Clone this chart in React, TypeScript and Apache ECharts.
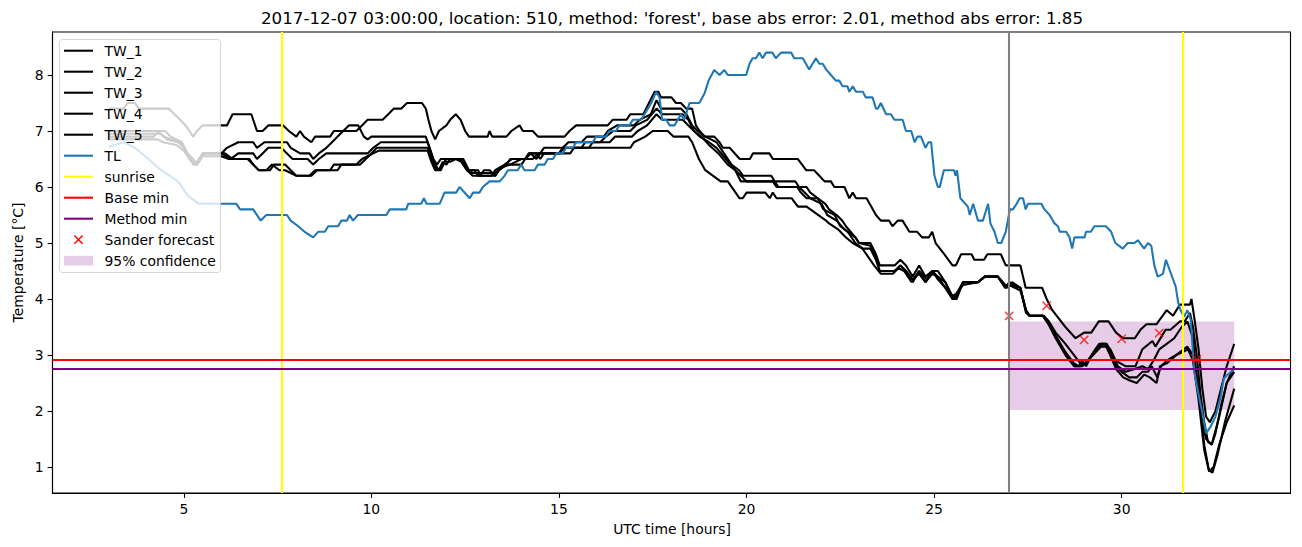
import React, { useEffect, useRef } from "react";
import * as echarts from "echarts";

const TITLE =
  "2017-12-07 03:00:00, location: 510, method: 'forest', base abs error: 2.01, method abs error: 1.85";
const X_LABEL = "UTC time [hours]";
const Y_LABEL = "Temperature [°C]";
const X_TICKS = [5, 10, 15, 20, 25, 30];
const Y_TICKS = [1, 2, 3, 4, 5, 6, 7, 8];

const TW_1: number[][] = [
  [3.0,7.4],[3.4,7.4],[3.5,7.5],[3.7,7.5],[3.8,7.4],[4.6,7.4],[4.75,7.3],[4.9,7.2],[5.05,7.1],[5.15,7.0],[5.25,6.9],[5.35,7.0],[5.5,7.1],[6.15,7.1],[6.3,7.3],[6.8,7.3],[6.95,7.0],[7.1,7.0],[7.25,7.1],[7.65,7.1],[7.8,7.0],[8.0,6.9],[8.1,7.0],[8.2,6.9],[8.4,6.8],[8.5,6.9],[8.9,6.9],[9.0,7.0],[9.6,7.0],[9.75,7.1],[9.9,7.2],[10.3,7.2],[10.45,7.3],[10.6,7.4],[10.8,7.4],[10.95,7.5],[11.35,7.5],[11.45,7.4],[11.52,7.2],[11.6,7.0],[11.7,6.85],[11.8,7.0],[12.0,7.1],[12.1,7.2],[12.25,7.3],[12.38,7.2],[12.5,7.0],[12.6,6.9],[13.1,6.9],[13.15,7.0],[13.22,6.9],[13.6,6.9],[13.73,7.0],[13.95,7.1],[14.04,7.0],[14.3,7.0],[14.44,6.9],[15.15,6.9],[15.28,7.0],[15.46,7.1],[16.3,7.1],[16.43,7.2],[16.8,7.2],[16.9,7.3],[17.25,7.3],[17.4,7.5],[17.55,7.7],[17.65,7.7],[17.72,7.6],[18.0,7.6],[18.12,7.5],[18.25,7.5],[18.39,7.4],[18.55,7.4],[18.65,7.1],[18.75,7.0],[18.88,6.9],[19.14,6.9],[19.28,6.8],[19.37,6.7],[19.55,6.7],[19.82,6.5],[20.09,6.5],[20.17,6.6],[20.61,6.6],[20.7,6.5],[21.37,6.5],[21.59,6.3],[21.8,6.3],[21.94,6.2],[22.08,6.1],[22.25,6.1],[22.34,6.0],[22.61,6.0],[22.74,5.8],[22.83,5.9],[22.92,5.8],[23.2,5.8],[23.45,5.5],[23.58,5.4],[23.8,5.4],[23.89,5.3],[24.03,5.4],[24.16,5.4],[24.34,5.2],[24.55,5.2],[24.68,5.1],[24.86,5.1],[24.95,5.2],[25.04,5.0],[25.27,4.8],[25.49,4.6],[25.58,4.6],[25.72,4.8],[26.0,4.8],[26.07,4.7],[26.33,4.7],[26.42,4.8],[26.78,4.8],[26.91,4.6],[27.3,4.6],[27.44,4.2],[27.88,4.2],[28.0,4.0],[28.15,3.8],[28.5,3.5],[28.77,3.3],[29.0,3.4],[29.19,3.4],[29.39,3.6],[29.65,3.6],[29.85,3.4],[30.04,3.3],[30.35,3.3],[30.5,3.45],[30.66,3.55],[30.93,3.55],[31.2,3.8],[31.37,3.7],[31.55,3.9],[31.82,3.9],[31.86,4.0],[31.95,3.6],[32.05,3.1],[32.15,2.4],[32.25,1.9],[32.35,1.8],[32.5,2.0],[32.65,2.4],[32.8,2.8],[32.9,3.0],[33.0,3.2]
];

const TW_2: number[][] = [
  [3.0,7.0],[4.3,7.0],[4.45,6.9],[4.9,6.8],[5.1,6.6],[5.25,6.5],[5.35,6.4],[5.45,6.5],[5.55,6.6],[6.0,6.6],[6.15,6.7],[6.45,6.8],[6.85,6.8],[6.95,6.7],[7.15,6.8],[7.75,6.8],[7.85,6.7],[8.1,6.6],[8.35,6.6],[8.45,6.5],[8.6,6.6],[8.8,6.7],[8.95,6.8],[9.1,6.9],[9.25,7.0],[9.4,7.1],[9.65,7.1],[9.8,6.9],[9.9,6.85],[10.0,6.9],[11.45,6.9],[11.55,6.7],[11.65,6.5],[11.75,6.4],[11.85,6.5],[12.45,6.5],[12.6,6.3],[12.75,6.3],[12.85,6.2],[13.2,6.2],[13.3,6.3],[13.55,6.4],[13.75,6.5],[14.1,6.5],[14.2,6.6],[14.5,6.6],[14.6,6.7],[15.1,6.7],[15.25,6.8],[15.6,6.8],[15.75,6.9],[16.2,6.9],[16.3,7.0],[16.55,7.1],[17.0,7.1],[17.15,7.2],[17.45,7.3],[17.6,7.55],[17.72,7.4],[18.25,7.4],[18.4,7.3],[18.55,7.1],[18.7,7.0],[18.9,6.9],[19.05,6.85],[19.2,6.8],[19.4,6.6],[19.6,6.4],[19.8,6.3],[19.91,6.2],[20.66,6.2],[20.75,6.1],[21.3,6.1],[21.4,6.0],[21.6,6.0],[21.7,5.9],[21.9,5.8],[22.1,5.7],[22.2,5.6],[22.4,5.5],[22.55,5.4],[22.65,5.3],[22.9,5.1],[23.0,5.0],[23.3,5.0],[23.45,4.8],[23.55,4.6],[23.95,4.6],[24.1,4.7],[24.25,4.6],[24.43,4.4],[24.6,4.6],[24.77,4.4],[24.95,4.5],[25.1,4.5],[25.3,4.3],[25.49,4.0],[25.6,4.1],[25.77,4.3],[26.17,4.3],[26.35,4.4],[26.7,4.4],[26.95,4.2],[27.08,4.3],[27.3,4.2],[27.44,3.8],[27.53,3.7],[27.93,3.7],[28.06,3.6],[28.24,3.4],[28.5,3.2],[28.73,3.0],[28.9,2.85],[29.04,2.85],[29.2,3.0],[29.35,3.15],[29.57,3.2],[29.7,3.1],[29.84,2.9],[30.1,2.8],[30.37,2.8],[30.55,3.1],[30.82,3.25],[30.9,3.15],[31.17,3.45],[31.3,3.45],[31.55,3.6],[31.68,3.6],[31.82,3.75],[31.9,3.5],[32.0,3.0],[32.1,2.3],[32.2,1.8],[32.3,1.45],[32.4,1.4],[32.5,1.6],[32.65,2.1],[32.8,2.5],[33.0,2.8]
];

const TW_3: number[][] = [
  [3.0,6.95],[4.4,6.95],[4.55,6.85],[4.85,6.8],[5.0,6.7],[5.15,6.5],[5.3,6.4],[5.4,6.5],[5.5,6.6],[6.0,6.6],[6.25,6.5],[6.45,6.6],[6.85,6.6],[6.95,6.5],[7.1,6.6],[7.25,6.7],[7.6,6.7],[7.75,6.6],[7.9,6.5],[8.3,6.5],[8.45,6.4],[8.6,6.5],[8.8,6.6],[9.9,6.6],[10.05,6.7],[10.25,6.8],[11.5,6.8],[11.6,6.6],[11.7,6.4],[11.8,6.3],[11.9,6.45],[12.0,6.4],[12.1,6.5],[12.4,6.5],[12.55,6.3],[12.85,6.3],[12.9,6.2],[13.3,6.2],[13.4,6.3],[13.6,6.4],[14.0,6.4],[14.1,6.5],[14.25,6.6],[14.4,6.5],[14.5,6.6],[15.0,6.6],[15.15,6.7],[15.6,6.7],[15.7,6.8],[16.1,6.8],[16.25,6.9],[16.45,7.0],[16.9,7.0],[17.05,7.1],[17.35,7.2],[17.6,7.4],[17.75,7.3],[18.3,7.3],[18.45,7.2],[18.6,7.0],[18.75,6.9],[19.0,6.8],[19.2,6.7],[19.45,6.5],[19.7,6.3],[19.85,6.1],[20.7,6.1],[20.8,6.0],[21.35,6.0],[21.45,5.9],[21.6,5.8],[21.9,5.8],[22.05,5.6],[22.35,5.5],[22.5,5.3],[22.7,5.2],[22.9,5.0],[23.1,4.9],[23.3,4.9],[23.45,4.7],[23.55,4.5],[23.95,4.5],[24.1,4.6],[24.25,4.5],[24.43,4.3],[24.6,4.5],[24.77,4.3],[24.95,4.45],[25.1,4.4],[25.3,4.2],[25.49,4.0],[25.6,4.05],[25.77,4.3],[26.17,4.3],[26.35,4.4],[26.7,4.4],[26.9,4.2],[27.0,4.3],[27.3,4.2],[27.45,3.8],[27.55,3.7],[27.9,3.7],[28.05,3.55],[28.24,3.35],[28.5,3.05],[28.73,2.85],[28.85,2.8],[28.95,2.9],[29.05,2.8],[29.2,3.0],[29.4,3.2],[29.55,3.2],[29.7,3.0],[29.85,2.8],[30.0,2.7],[30.2,2.6],[30.4,2.6],[30.55,2.7],[30.7,2.7],[30.8,2.8],[30.95,2.6],[31.05,2.8],[31.2,2.9],[31.45,3.0],[31.75,3.15],[31.9,3.0],[32.05,2.4],[32.2,1.4],[32.33,0.92],[32.45,1.0],[32.6,1.4],[32.8,1.8],[33.0,2.1]
];

const TW_4: number[][] = [
  [3.0,6.9],[4.2,6.9],[4.35,7.0],[4.5,7.0],[4.65,6.9],[4.95,6.8],[5.1,6.6],[5.25,6.4],[5.35,6.4],[5.45,6.5],[5.5,6.6],[6.1,6.6],[6.3,6.5],[6.75,6.5],[6.85,6.4],[7.0,6.3],[7.3,6.3],[7.4,6.4],[7.7,6.4],[7.85,6.3],[8.0,6.2],[8.35,6.2],[8.5,6.3],[8.9,6.3],[9.0,6.4],[9.7,6.4],[9.85,6.5],[10.0,6.6],[10.15,6.7],[11.5,6.7],[11.6,6.5],[11.7,6.35],[11.8,6.3],[11.9,6.4],[12.0,6.5],[12.35,6.5],[12.45,6.4],[12.55,6.3],[12.7,6.2],[12.9,6.2],[13.0,6.3],[13.15,6.3],[13.3,6.2],[13.4,6.3],[13.6,6.4],[13.7,6.5],[14.1,6.5],[14.2,6.6],[14.4,6.6],[14.5,6.5],[14.6,6.6],[15.3,6.6],[15.4,6.7],[15.8,6.7],[15.9,6.8],[16.35,6.8],[16.5,6.9],[16.95,6.9],[17.1,7.0],[17.35,7.1],[17.6,7.3],[17.75,7.2],[18.3,7.2],[18.45,7.1],[18.6,7.0],[18.8,6.9],[19.0,6.75],[19.25,6.6],[19.5,6.4],[19.7,6.3],[19.85,6.2],[20.0,6.1],[20.75,6.1],[20.85,6.0],[21.4,6.0],[21.55,5.9],[21.7,5.8],[22.0,5.7],[22.15,5.5],[22.4,5.4],[22.6,5.25],[22.9,5.1],[23.0,5.0],[23.3,4.95],[23.45,4.75],[23.55,4.5],[23.95,4.5],[24.1,4.6],[24.25,4.5],[24.43,4.35],[24.6,4.45],[24.77,4.3],[24.95,4.5],[25.1,4.4],[25.3,4.3],[25.49,4.05],[25.6,4.1],[25.77,4.25],[26.17,4.3],[26.35,4.4],[26.7,4.4],[26.9,4.25],[27.0,4.25],[27.3,4.15],[27.45,3.8],[27.55,3.7],[27.9,3.7],[28.05,3.55],[28.24,3.3],[28.5,3.0],[28.73,2.8],[28.95,2.8],[29.1,2.9],[29.45,3.15],[29.6,3.15],[29.85,2.75],[30.04,2.6],[30.2,2.55],[30.4,2.5],[30.6,2.65],[30.75,2.6],[30.93,2.5],[31.02,2.8],[31.2,2.85],[31.46,3.0],[31.77,3.1],[31.9,2.9],[32.05,2.2],[32.2,1.3],[32.32,0.95],[32.42,0.9],[32.55,1.2],[32.75,1.8],[33.0,2.4]
];

const TW_5: number[][] = [
  [3.0,6.85],[4.3,6.85],[4.45,6.8],[4.8,6.75],[5.0,6.65],[5.15,6.5],[5.3,6.4],[5.4,6.45],[5.5,6.55],[6.0,6.55],[6.2,6.5],[6.7,6.5],[6.85,6.4],[7.0,6.3],[7.2,6.3],[7.35,6.4],[7.55,6.3],[7.7,6.3],[7.85,6.25],[8.0,6.2],[8.4,6.2],[8.55,6.3],[9.1,6.3],[9.2,6.4],[9.6,6.4],[9.75,6.5],[9.9,6.55],[10.05,6.6],[10.2,6.65],[11.5,6.65],[11.6,6.45],[11.7,6.3],[11.85,6.3],[11.95,6.45],[12.1,6.45],[12.25,6.5],[12.4,6.45],[12.55,6.3],[12.7,6.25],[13.3,6.25],[13.45,6.35],[13.7,6.4],[14.0,6.5],[14.3,6.5],[14.45,6.6],[15.0,6.6],[15.1,6.7],[16.9,6.7],[17.0,6.8],[17.3,6.9],[17.5,7.0],[17.9,7.0],[18.05,6.9],[18.45,6.9],[18.55,6.8],[18.73,6.5],[18.9,6.3],[19.31,6.1],[19.5,6.1],[19.81,5.8],[19.9,5.8],[20.0,5.9],[20.5,5.9],[20.62,5.8],[20.7,5.9],[20.8,5.8],[21.2,5.8],[21.37,5.65],[21.6,5.65],[22.12,5.4],[22.2,5.35],[22.43,5.25],[22.65,5.1],[22.83,5.0],[22.96,4.95],[23.09,4.9],[23.4,4.6],[23.58,4.45],[23.9,4.45],[24.05,4.55],[24.2,4.5],[24.4,4.3],[24.6,4.5],[24.8,4.35],[24.95,4.5],[25.1,4.35],[25.3,4.2],[25.5,4.0],[25.6,4.0],[25.77,4.3],[26.17,4.3],[26.35,4.4],[26.7,4.4],[26.9,4.2],[27.0,4.25],[27.3,4.2],[27.45,3.75],[27.55,3.7],[27.9,3.7],[28.05,3.6],[28.2,3.4],[28.35,3.2],[28.75,2.8],[28.9,2.8],[29.1,2.9],[29.45,3.2],[29.6,3.2],[29.9,2.8],[30.1,2.7],[30.35,2.75],[30.55,2.8],[30.7,2.75],[30.85,2.9],[31.0,3.1],[31.2,3.2],[31.4,3.3],[31.6,3.5],[31.75,3.6],[31.9,3.3],[32.0,2.6],[32.15,1.8],[32.25,1.5],[32.4,1.4],[32.6,1.9],[32.8,2.5],[33.0,2.7]
];

const TL: number[][] = [
  [3.0,6.72],[3.4,6.8],[3.7,6.7],[3.97,6.55],[4.4,6.3],[4.85,6.1],[5.1,5.85],[5.4,5.7],[6.4,5.7],[6.5,5.6],[6.85,5.6],[7.05,5.4],[7.2,5.5],[7.75,5.5],[7.85,5.4],[8.05,5.3],[8.22,5.2],[8.45,5.1],[8.58,5.2],[8.76,5.2],[8.85,5.3],[9.11,5.3],[9.2,5.4],[9.35,5.4],[9.42,5.5],[9.51,5.4],[9.64,5.5],[10.4,5.5],[10.49,5.6],[10.93,5.6],[10.98,5.7],[11.33,5.7],[11.4,5.8],[11.47,5.7],[11.82,5.7],[11.95,5.9],[12.26,5.9],[12.35,6.0],[12.62,5.8],[12.71,5.9],[12.88,5.9],[12.97,6.0],[13.15,6.1],[13.42,6.1],[13.55,6.2],[13.64,6.3],[13.9,6.3],[13.99,6.4],[14.08,6.3],[14.35,6.3],[14.44,6.4],[14.62,6.4],[14.7,6.5],[14.84,6.5],[14.93,6.6],[15.1,6.6],[15.19,6.7],[15.37,6.7],[15.46,6.8],[15.9,6.8],[15.99,6.9],[16.25,6.9],[16.34,7.0],[16.52,7.0],[16.61,7.1],[16.88,7.1],[16.97,7.2],[17.19,7.2],[17.28,7.3],[17.37,7.4],[17.46,7.5],[17.59,7.7],[17.68,7.6],[17.75,7.2],[17.86,7.2],[17.95,7.1],[18.08,7.1],[18.25,7.3],[18.34,7.2],[18.48,7.5],[18.74,7.5],[18.88,7.67],[18.99,7.9],[19.14,8.09],[19.28,8.0],[19.41,8.09],[19.5,8.0],[19.99,8.0],[20.08,8.2],[20.16,8.3],[20.25,8.3],[20.34,8.4],[20.43,8.3],[20.52,8.4],[20.69,8.4],[20.78,8.3],[20.92,8.4],[21.19,8.4],[21.27,8.3],[21.5,8.3],[21.67,8.1],[21.85,8.3],[21.94,8.2],[22.03,8.2],[22.12,8.1],[22.25,8.0],[22.38,7.9],[22.47,7.9],[22.56,7.8],[22.69,7.8],[22.74,7.7],[22.83,7.8],[22.92,7.7],[23.1,7.7],[23.18,7.6],[23.36,7.6],[23.45,7.4],[23.5,7.4],[23.58,7.5],[23.72,7.3],[23.85,7.3],[23.94,7.2],[24.16,7.2],[24.25,7.0],[24.39,7.0],[24.48,6.8],[24.56,6.9],[24.65,6.9],[24.77,6.7],[24.85,6.8],[24.92,6.8],[25.01,6.2],[25.1,6.0],[25.15,6.0],[25.26,6.3],[25.53,6.3],[25.57,6.2],[25.61,6.3],[25.7,5.8],[25.9,5.65],[25.95,5.5],[26.04,5.7],[26.17,5.4],[26.3,5.4],[26.44,5.7],[26.5,5.35],[26.61,5.2],[26.7,5.0],[26.79,5.0],[26.91,5.2],[27.02,5.6],[27.1,5.6],[27.2,5.7],[27.28,5.8],[27.37,5.8],[27.44,5.6],[27.5,5.7],[27.86,5.7],[27.94,5.6],[28.08,5.5],[28.21,5.35],[28.3,5.3],[28.35,5.2],[28.52,5.2],[28.61,5.1],[28.68,4.9],[28.74,5.1],[29.01,5.1],[29.05,5.2],[29.18,5.2],[29.27,5.3],[29.58,5.3],[29.72,5.2],[29.83,5.0],[30.03,4.9],[30.16,5.0],[30.34,5.0],[30.43,5.05],[30.6,4.9],[30.7,5.0],[30.79,4.95],[30.87,4.6],[30.96,4.4],[31.1,4.45],[31.18,4.7],[31.31,4.46],[31.44,4.22],[31.51,3.92],[31.57,3.8],[31.66,3.68],[31.75,3.8],[31.84,3.63],[31.93,2.73],[32.01,2.43],[32.15,1.96],[32.25,1.6],[32.37,1.72],[32.5,1.9],[32.64,2.26],[32.72,2.58],[32.81,2.64],[33.0,2.75]
];

const SUNRISE_HOURS = [7.6, 31.62];
const FORECAST_START = 27;
const BASE_MIN = 2.91;
const METHOD_MIN = 2.755;
const SANDER_HOURS = [27, 28, 29, 30, 31, 32];
const SANDER_VALUES = [3.7, 3.88, 3.27, 3.29, 3.39, 2.92];
const CONF_HOURS = [27, 33];
const CONF_BOUNDS = [2.02, 3.6];

const X_RANGE = [1.5, 34.5];
const Y_RANGE = [0.536, 8.768];

const FONT = "DejaVu Sans";
const LW = 2.08;

type LegendItem = { name: string; kind: "line" | "x" | "patch"; color: string };
const LEGEND: LegendItem[] = [
  { name: "TW_1", kind: "line", color: "#000000" },
  { name: "TW_2", kind: "line", color: "#000000" },
  { name: "TW_3", kind: "line", color: "#000000" },
  { name: "TW_4", kind: "line", color: "#000000" },
  { name: "TW_5", kind: "line", color: "#000000" },
  { name: "TL", kind: "line", color: "#1f77b4" },
  { name: "sunrise", kind: "line", color: "#ffff00" },
  { name: "Base min", kind: "line", color: "#ff0000" },
  { name: "Method min", kind: "line", color: "#800080" },
  { name: "Sander forecast", kind: "x", color: "#ff0000" },
  { name: "95% confidence", kind: "patch", color: "rgba(128,0,128,0.2)" },
];

function buildLegend(): any[] {
  const els: any[] = [
    {
      type: "rect",
      z: 100,
      shape: { x: 59.5, y: 39.5, width: 161, height: 233, r: 3 },
      style: { fill: "rgba(255,255,255,0.8)", stroke: "rgba(204,204,204,0.8)", lineWidth: 1 },
    },
  ];
  LEGEND.forEach((it, i) => {
    const cy = 50.7 + 21 * i;
    if (it.kind === "line") {
      els.push({
        type: "line",
        z: 101,
        shape: { x1: 64, y1: cy, x2: 93, y2: cy },
        style: { stroke: it.color, lineWidth: LW },
      });
    } else if (it.kind === "x") {
      const c = 78.5, h = 4.15;
      els.push({ type: "line", z: 101, shape: { x1: c - h, y1: cy - h, x2: c + h, y2: cy + h }, style: { stroke: it.color, lineWidth: 1.4 } });
      els.push({ type: "line", z: 101, shape: { x1: c - h, y1: cy + h, x2: c + h, y2: cy - h }, style: { stroke: it.color, lineWidth: 1.4 } });
    } else {
      els.push({ type: "rect", z: 101, shape: { x: 64, y: cy - 4.9, width: 29, height: 9.7 }, style: { fill: it.color } });
    }
    els.push({
      type: "text",
      z: 101,
      x: 104.5,
      y: cy,
      style: { text: it.name, fontSize: 13.9, fontFamily: FONT, fill: "#000", align: "left", verticalAlign: "middle" },
    });
  });
  return els;
}

export default function App() {
  const ref = useRef<HTMLDivElement>(null);
  useEffect(() => {
    if (!ref.current) return;
    const chart = echarts.init(ref.current, undefined, { renderer: "svg" });
    const twSeries = [TW_1, TW_2, TW_3, TW_4, TW_5].map((d, i) => ({
      name: "TW_" + (i + 1),
      type: "line",
      data: d,
      symbol: "none",
      z: 2,
      lineStyle: { color: "#000000", width: LW },
      silent: true,
    }));
    const vline = (x: number, color: string) => ({ xAxis: x, lineStyle: { color, width: LW, type: "solid" } });
    const hline = (y: number, color: string) => ({ yAxis: y, lineStyle: { color, width: LW, type: "solid" } });
    const option: any = {
      animation: false,
      grid: { left: 52.5, top: 32, width: 1238, height: 461, show: true, borderColor: "#000", borderWidth: 1.1, backgroundColor: "transparent" },
      xAxis: {
        type: "value",
        min: X_RANGE[0],
        max: X_RANGE[1],
        axisLine: { show: true, onZero: false, lineStyle: { color: "#000", width: 1.1 } },
        axisTick: { show: true, customValues: X_TICKS, length: 4.9, lineStyle: { color: "#000", width: 1.1 } },
        axisLabel: { customValues: X_TICKS, color: "#000", fontSize: 13.9, fontFamily: FONT, margin: 9 },
        splitLine: { show: false },
      },
      yAxis: {
        type: "value",
        min: Y_RANGE[0],
        max: Y_RANGE[1],
        axisLine: { show: true, onZero: false, lineStyle: { color: "#000", width: 1.1 } },
        axisTick: { show: true, customValues: Y_TICKS, length: 4.9, lineStyle: { color: "#000", width: 1.1 } },
        axisLabel: { customValues: Y_TICKS, color: "#000", fontSize: 13.9, fontFamily: FONT, margin: 9 },
        splitLine: { show: false },
      },
      series: [
        {
          name: "95% confidence",
          type: "line",
          data: [],
          z: 1,
          silent: true,
          markArea: {
            silent: true,
            itemStyle: { color: "rgba(128,0,128,0.2)" },
            data: [[{ xAxis: CONF_HOURS[0], yAxis: CONF_BOUNDS[0] }, { xAxis: CONF_HOURS[1], yAxis: CONF_BOUNDS[1] }]],
          },
        },
        ...twSeries,
        {
          name: "TL",
          type: "line",
          data: TL,
          symbol: "none",
          z: 2,
          lineStyle: { color: "#1f77b4", width: LW },
          silent: true,
        },
        {
          name: "lines",
          type: "line",
          data: [],
          z: 3,
          silent: true,
          markLine: {
            silent: true,
            symbol: ["none", "none"],
            label: { show: false },
            data: [
              vline(SUNRISE_HOURS[0], "#ffff00"),
              vline(SUNRISE_HOURS[1], "#ffff00"),
              vline(FORECAST_START, "#808080"),
              hline(BASE_MIN, "#ff0000"),
              hline(METHOD_MIN, "#800080"),
            ],
          },
        },
        {
          name: "Sander forecast",
          type: "scatter",
          z: 4,
          silent: true,
          data: SANDER_HOURS.map((h, i) => [h, SANDER_VALUES[i]]),
          symbol: "path://M0,0L10,10M10,0L0,10",
          symbolSize: 8.3,
          itemStyle: { color: "none", borderColor: "#ff0000", borderWidth: 1.4 },
        },
      ],
      graphic: {
        elements: [
          {
            type: "text",
            x: 672,
            y: 18,
            style: { text: TITLE, fontSize: 16.7, fontFamily: FONT, fill: "#000", align: "center", verticalAlign: "middle" },
          },
          {
            type: "text",
            x: 672,
            y: 529,
            style: { text: X_LABEL, fontSize: 13.9, fontFamily: FONT, fill: "#000", align: "center", verticalAlign: "middle" },
          },
          {
            type: "text",
            x: 18,
            y: 262.5,
            rotation: Math.PI / 2,
            style: { text: Y_LABEL, fontSize: 13.9, fontFamily: FONT, fill: "#000", align: "center", verticalAlign: "middle" },
          },
          ...buildLegend(),
        ],
      },
    };
    chart.setOption(option);
    return () => chart.dispose();
  }, []);
  return (
    <div
      ref={ref}
      style={{ position: "absolute", left: 0, top: 0, width: 1302, height: 547, background: "#fff" }}
    />
  );
}
